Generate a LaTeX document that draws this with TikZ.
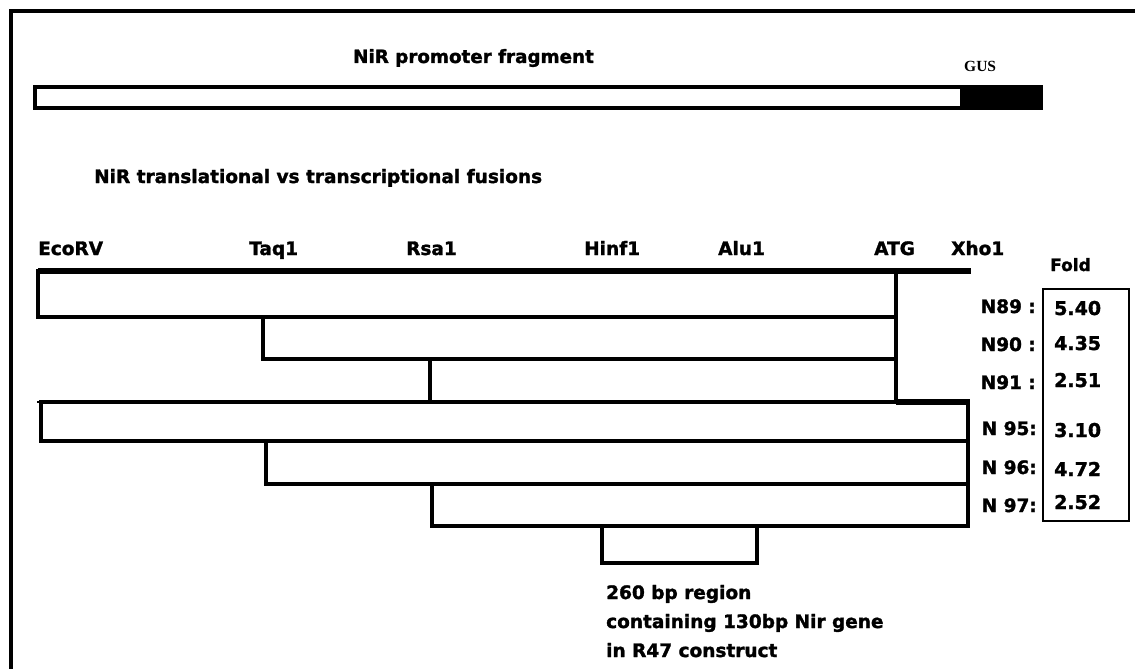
\documentclass[tikz,border=0pt]{standalone}
\usepackage{fontspec}
\setmainfont{DejaVu Sans}[BoldFeatures={FakeBold=1.6}]
\newfontfamily\gusfont{Liberation Serif}
\begin{document}
\begin{tikzpicture}[x=1pt,y=-1pt,
  lbl/.style={anchor=base west,inner sep=0pt,font=\bfseries\fontsize{18.5}{20}\selectfont},
  sitelbl/.style={lbl},
  nlbl/.style={anchor=base east,inner sep=0pt,font=\bfseries\fontsize{18.5}{20}\selectfont},
  val/.style={anchor=base west,inner sep=0pt,font=\bfseries\fontsize{19}{20}\selectfont},
  frag/.style={draw,line width=3.6pt,line join=miter},
  thick line/.style={line width=6.5pt}]
\useasboundingbox (0,0) rectangle (1135,669);
\fill[white] (0,0) rectangle (1135,669);
% outer frame
\draw[line width=4pt] (1135,11) -- (10.7,11) -- (10.7,669);
% promoter bar
\node[lbl,font=\bfseries\fontsize{18.3}{20}\selectfont] (title) at (353,63) {NiR promoter fragment};
\node[anchor=base west,inner sep=0pt,font=\gusfont\bfseries\fontsize{15.5}{16}\selectfont] (gus) at (964,71) {GUS};
\fill[black] (960,85) rectangle (1043,110);
\draw[line width=4pt] (35,87) rectangle (1041,108);
% subtitle
\node[lbl] (fus) at (94,183) {NiR translational vs transcriptional fusions};
% site labels
\node[sitelbl] (ecorv) at (38,255) {EcoRV};
\node[sitelbl] (taq) at (249,255) {Taq1};
\node[sitelbl] (rsa) at (406,255) {Rsa1};
\node[sitelbl] (hinf) at (584,255) {Hinf1};
\node[sitelbl] (alu) at (718,255) {Alu1};
\node[sitelbl] (atg) at (874,255) {ATG};
\node[sitelbl] (xho) at (951,255) {Xho1};
\node[lbl,font=\bfseries\fontsize{17}{18}\selectfont] (fold) at (1050,271) {Fold};
% fragments
\draw[frag] (38,271) rectangle (896,317);
\draw[frag] (263,317) rectangle (896,359);
\draw[frag] (430,359) rectangle (896,402);
\draw[frag] (41,402) rectangle (968,441);
\draw[frag] (266,441) rectangle (968,484);
\draw[frag] (432,484) rectangle (968,526);
\draw[frag] (602,526) rectangle (757,563);
\draw[thick line] (38,271) -- (971,271);
\draw[thick line] (896,402) -- (970,402);
\draw[line width=2pt] (37,402) -- (42,402);
% N labels
\node[nlbl] (n89) at (1036,313) {N89 :};
\node[nlbl] (n90) at (1036,351) {N90 :};
\node[nlbl] (n91) at (1036,389) {N91 :};
\node[nlbl] (n95) at (1037,435) {N 95:};
\node[nlbl] (n96) at (1037,474) {N 96:};
\node[nlbl] (n97) at (1037,512) {N 97:};
% fold box
\draw[line width=1.5pt] (1043,289) rectangle (1129,521);
\node[val] (v89) at (1054,315) {5.40};
\node[val] (v90) at (1054,350) {4.35};
\node[val] (v91) at (1054,387) {2.51};
\node[val] (v95) at (1054,437) {3.10};
\node[val] (v96) at (1054,476) {4.72};
\node[val] (v97) at (1054,509) {2.52};
% bottom text
\node[lbl] (t1) at (606,599) {260 bp region};
\node[lbl] (t2) at (606,628) {containing 130bp Nir gene};
\node[lbl] (t3) at (606,657) {in R47 construct};
\end{tikzpicture}
\end{document}
